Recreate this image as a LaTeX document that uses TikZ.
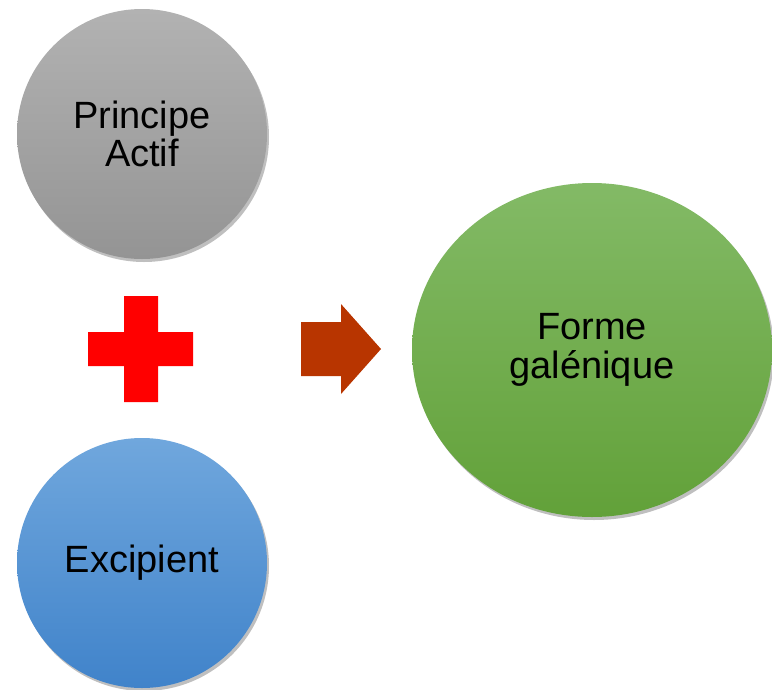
\documentclass[tikz,border=0pt]{standalone}
\usepackage{fontspec}
\setmainfont{Liberation Sans}
\usetikzlibrary{shapes.geometric,shadows}
\definecolor{grayTop}{HTML}{B2B2B2}
\definecolor{grayBot}{HTML}{949494}
\definecolor{blueTop}{HTML}{70A7DD}
\definecolor{blueBot}{HTML}{4083CA}
\definecolor{greenTop}{HTML}{83BA66}
\definecolor{greenBot}{HTML}{62A139}
\definecolor{plusRed}{HTML}{FF0000}
\definecolor{arrowRed}{HTML}{B83500}
\begin{document}
\begin{tikzpicture}[x=1pt,y=-1pt,
  blob/.style={inner sep=0pt, align=center, text=black,
    font=\fontsize{38}{38.5}\selectfont,
    drop shadow={shadow xshift=2pt, shadow yshift=-3pt, opacity=0.25, fill=black}},
  roundblob/.style={blob, circle, minimum size=250pt},
]
\useasboundingbox (0,0) rectangle (772,689);
\node[roundblob, top color=grayTop, bottom color=grayBot] (pa) at (142,134) {Principe\\Actif};
\node[roundblob, top color=blueTop, bottom color=blueBot] (ex) at (142,563) {Excipient};
\node[blob, ellipse, minimum width=360pt, minimum height=334pt,
      top color=greenTop, bottom color=greenBot] (fg) at (592,350) {Forme\\galénique};
% plus sign
\fill[plusRed] (124,296) -- (158,296) -- (158,332) -- (193,332) -- (193,366)
  -- (158,366) -- (158,402) -- (124,402) -- (124,366) -- (88,366) -- (88,332)
  -- (124,332) -- cycle;
% block arrow
\fill[arrowRed] (301,322) -- (341,322) -- (341,304) -- (381,349) -- (341,394)
  -- (341,376) -- (301,376) -- cycle;
\end{tikzpicture}
\end{document}
